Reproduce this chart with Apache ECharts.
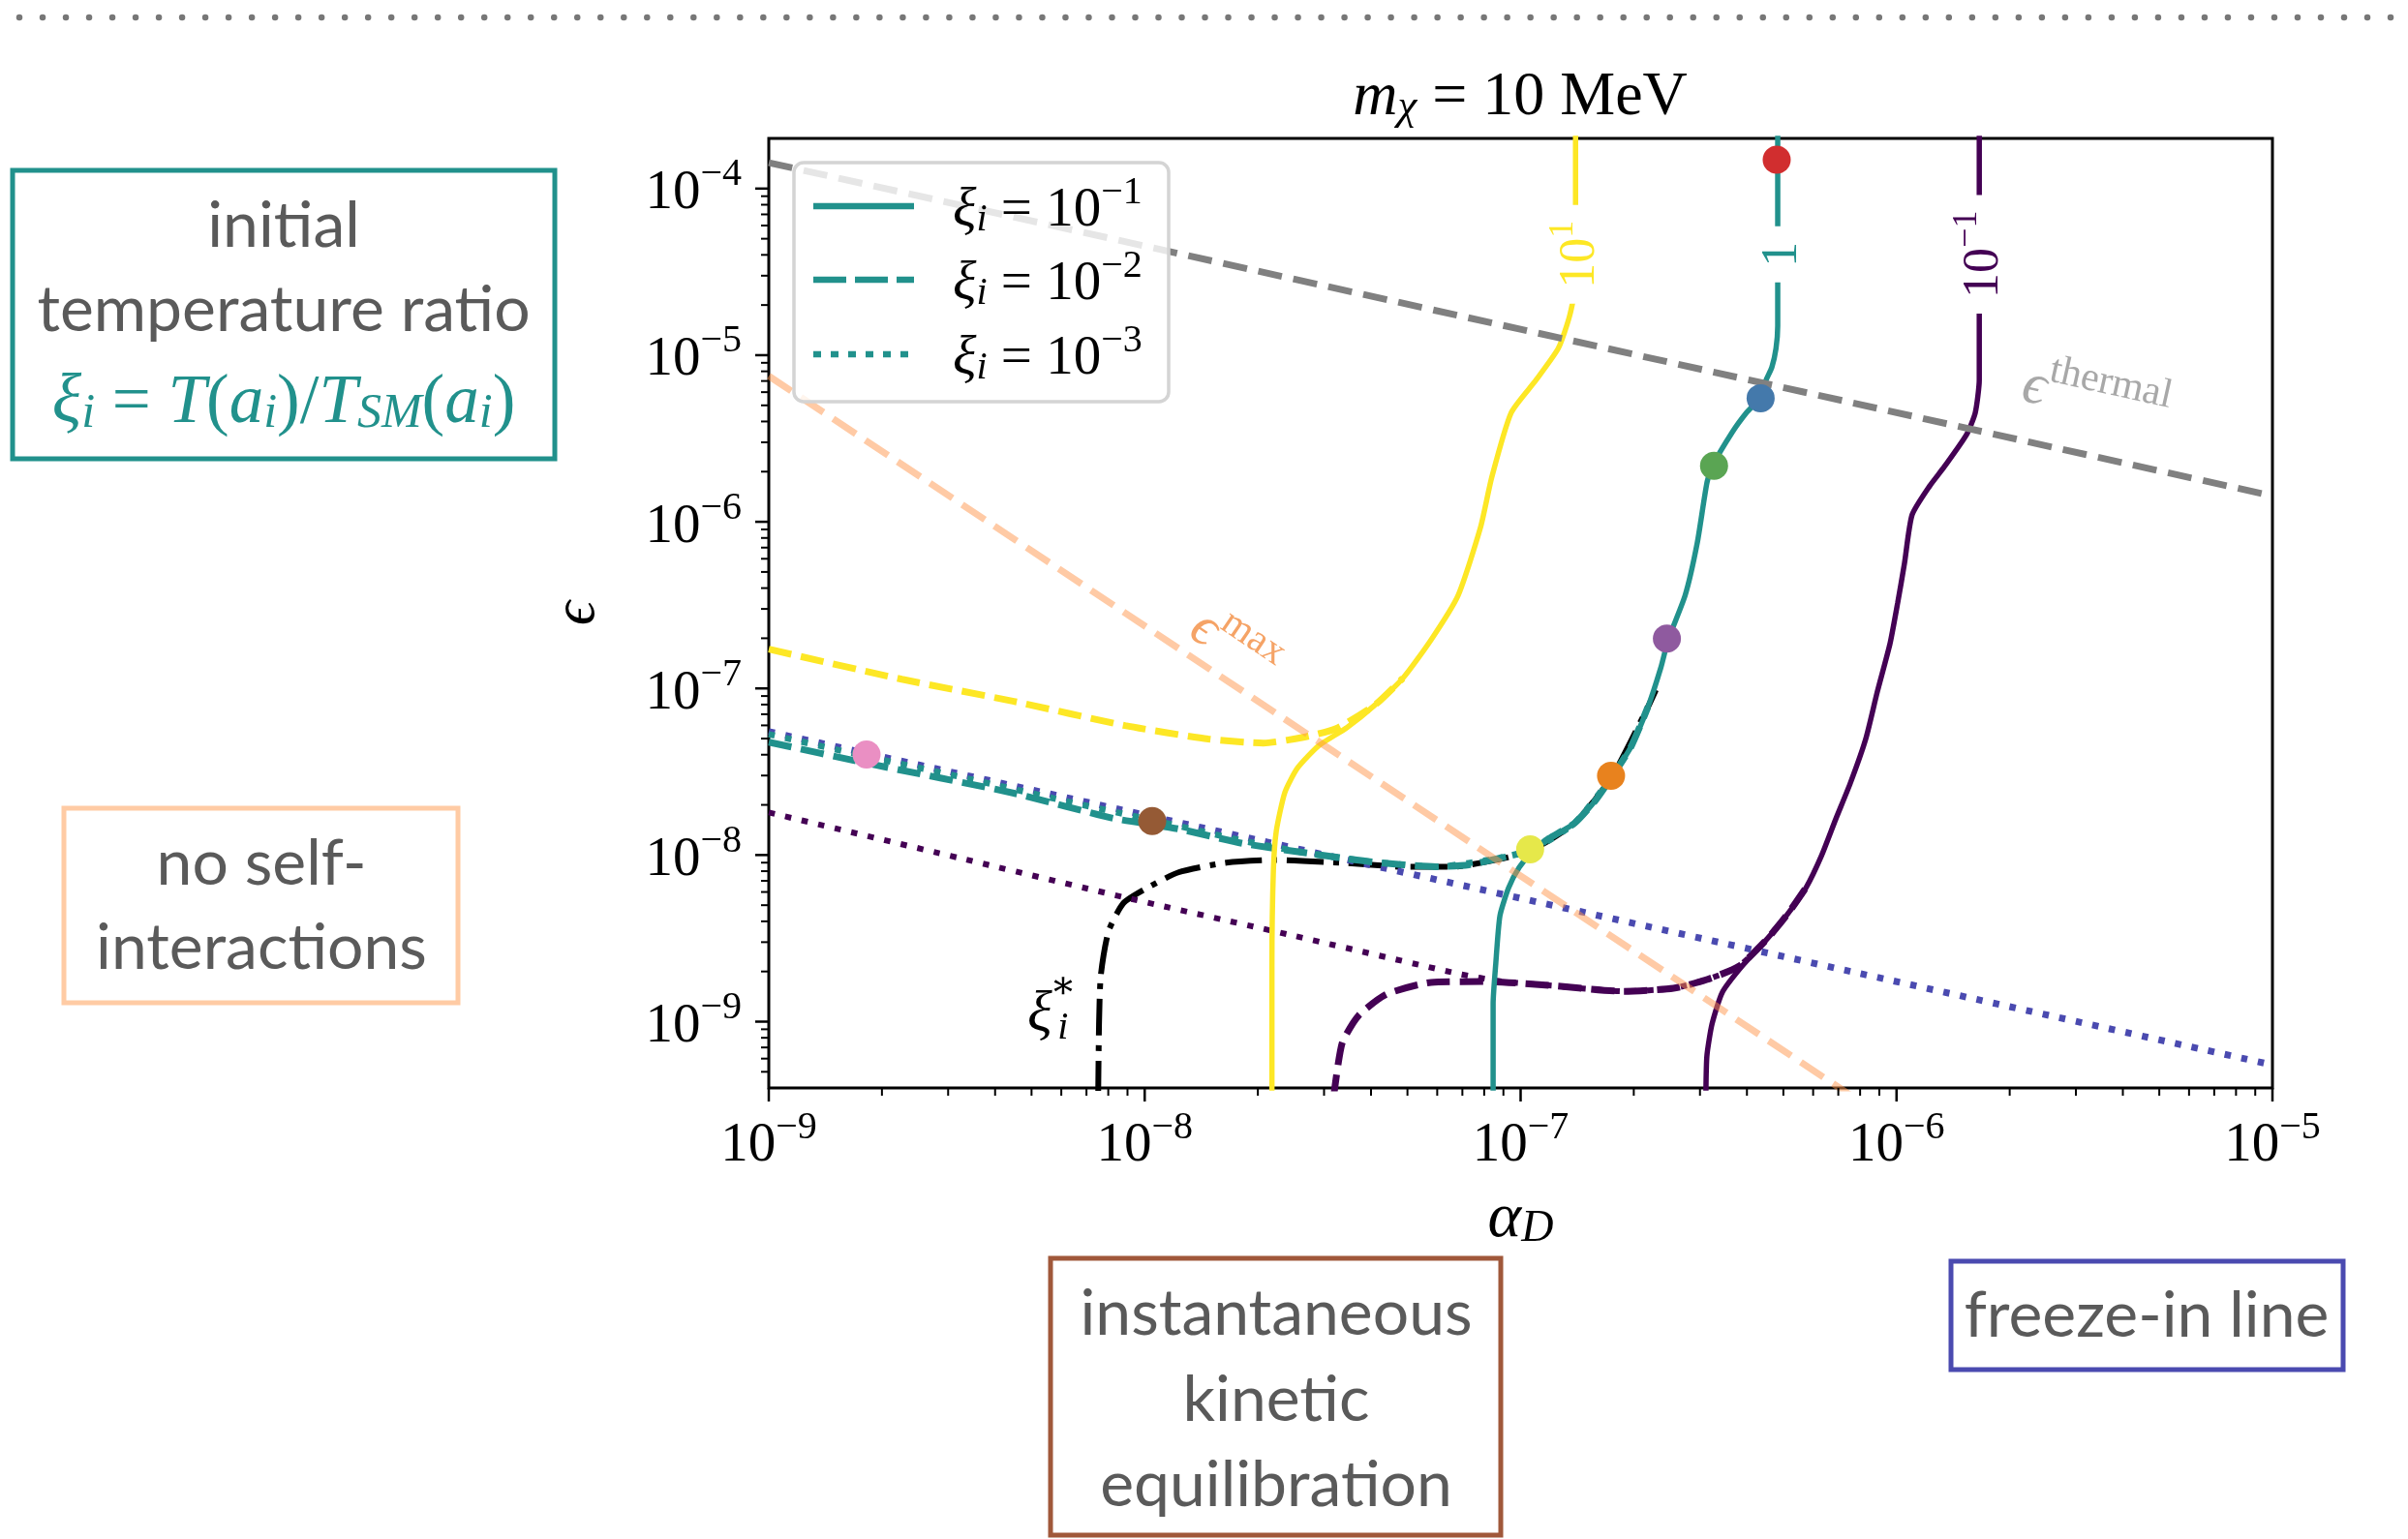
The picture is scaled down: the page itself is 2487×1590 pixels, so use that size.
<!DOCTYPE html>
<html>
<head>
<meta charset="utf-8">
<script src="https://cdn.jsdelivr.net/npm/echarts@6/dist/echarts.min.js"></script>
<style>
  html, body { margin: 0; padding: 0; background: #fff; }
  #chart { width: 2487px; height: 1590px; }
</style>
</head>
<body>
<div id="chart"></div>
<script>
// axis ranges (alpha_D on x, epsilon on y)
const X_RANGE = [1e-9, 1e-5];
const Y_RANGE = [4e-10, 2e-4];
const X_MAJOR = [1e-9, 1e-8, 1e-7, 1e-6, 1e-5];
const Y_MAJOR = [1e-9, 1e-8, 1e-7, 1e-6, 1e-5, 1e-4];
const MINOR_MULT = [2, 3, 4, 5, 6, 7, 8, 9];

// straight reference lines
const thermalLine = [[1e-9, 1.43e-4], [1e-5, 1.43e-6]];
const maxLine = [[1e-9, 7.5e-6], [1e-6, 2.37e-10]];
const freezeInLine = [[1e-9, 5.5e-8], [1e-5, 5.5e-10]];

// contour "10^1" (yellow)
const yellowSolid = [[2.18e-8, 3.5e-10], [2.18e-8, 2.15e-9], [2.20e-8, 8.18e-9], [2.24e-8, 1.40e-8], [2.36e-8, 2.38e-8],
  [2.55e-8, 3.33e-8], [2.90e-8, 4.52e-8], [3.45e-8, 5.82e-8], [4.09e-8, 7.93e-8], [4.86e-8, 1.15e-7], [5.78e-8, 1.96e-7],
  [6.82e-8, 3.62e-7], [7.82e-8, 9.23e-7], [8.39e-8, 1.87e-6], [9.44e-8, 4.52e-6], [1.10e-7, 7.11e-6], [1.26e-7, 1.10e-5],
  [1.35e-7, 1.72e-5], [1.40e-7, 2.70e-5], [1.40e-7, 2.3e-4]];
const yellowDashed = [[1e-9, 1.72e-7], [2.26e-9, 1.135e-7], [4.49e-9, 8.36e-8], [8.87e-9, 5.98e-8], [1.477e-8, 4.97e-8],
  [2.07e-8, 4.70e-8], [2.64e-8, 5.09e-8], [3.23e-8, 5.74e-8], [4.09e-8, 7.93e-8], [4.86e-8, 1.15e-7]];

// contour "1" (teal)
const tealSolid = [[8.45e-8, 3.5e-10], [8.45e-8, 1.28e-9], [8.59e-8, 2.24e-9], [8.81e-8, 4.32e-9], [9.29e-8, 6.35e-9],
  [9.91e-8, 8.41e-9], [1.076e-7, 1.054e-8], [1.19e-7, 1.256e-8], [1.39e-7, 1.55e-8], [1.585e-7, 2.14e-8],
  [1.75e-7, 2.95e-8], [1.96e-7, 4.40e-8], [2.18e-7, 7.71e-8], [2.36e-7, 1.33e-7], [2.47e-7, 1.96e-7], [2.74e-7, 3.62e-7],
  [2.95e-7, 7.45e-7], [3.13e-7, 1.71e-6], [3.24e-7, 2.17e-6], [3.66e-7, 3.46e-6], [3.99e-7, 4.52e-6], [4.32e-7, 5.52e-6],
  [4.50e-7, 7.11e-6], [4.66e-7, 8.47e-6], [4.78e-7, 1.10e-5], [4.83e-7, 1.50e-5], [4.83e-7, 2.3e-4]];
const tealDashed = [[1e-9, 4.76e-8], [1.82e-9, 3.56e-8], [4.49e-9, 2.35e-8], [8.26e-9, 1.66e-8], [1.23e-8, 1.435e-8],
  [1.82e-8, 1.175e-8], [2.70e-8, 1.028e-8], [4.02e-8, 9.10e-9], [5.96e-8, 8.51e-9], [7.28e-8, 8.74e-9], [8.86e-8, 9.62e-9],
  [1.07e-7, 1.07e-8], [1.19e-7, 1.256e-8], [1.39e-7, 1.55e-8], [1.585e-7, 2.14e-8], [1.75e-7, 2.95e-8], [1.96e-7, 4.40e-8],
  [2.18e-7, 7.71e-8]];
const tealDotted = [[1e-9, 5.31e-8], [1.875e-9, 3.85e-8], [3.40e-9, 2.87e-8], [6.14e-9, 2.11e-8], [1.11e-8, 1.575e-8],
  [1.82e-8, 1.22e-8], [2.70e-8, 1.028e-8], [4.02e-8, 9.10e-9], [5.96e-8, 8.51e-9], [8.86e-8, 9.62e-9], [1.07e-7, 1.07e-8],
  [1.39e-7, 1.55e-8], [1.75e-7, 2.95e-8]];

// contour "10^-1" (purple)
const purpleSolid = [[3.11e-7, 3.5e-10], [3.13e-7, 6.22e-10], [3.23e-7, 9.68e-10], [3.44e-7, 1.50e-9], [3.88e-7, 2.15e-9],
  [4.50e-7, 3.09e-9], [5.09e-7, 4.32e-9], [5.74e-7, 6.35e-9], [6.31e-7, 9.86e-9], [6.89e-7, 1.64e-8], [7.53e-7, 2.69e-8],
  [8.28e-7, 4.97e-8], [8.89e-7, 9.55e-8], [9.61e-7, 1.86e-7], [1.007e-6, 3.26e-7], [1.05e-6, 5.64e-7], [1.10e-6, 1.10e-6],
  [1.225e-6, 1.64e-6], [1.34e-6, 2.14e-6], [1.535e-6, 3.33e-6], [1.62e-6, 4.52e-6], [1.66e-6, 7.11e-6], [1.66e-6, 2.3e-4]];
const purpleDashed = [[3.18e-8, 3.5e-10], [3.35e-8, 7.41e-10], [3.71e-8, 1.09e-9], [4.40e-8, 1.46e-9], [5.78e-8, 1.72e-9],
  [8.11e-8, 1.74e-9], [1.19e-7, 1.65e-9], [1.88e-7, 1.52e-9], [2.55e-7, 1.585e-9], [3.13e-7, 1.79e-9], [3.81e-7, 2.15e-9],
  [4.50e-7, 3.09e-9], [5.09e-7, 4.32e-9], [5.74e-7, 6.35e-9]];
const purpleDotted = [[1e-9, 1.8e-8], [3.20e-9, 9.62e-9], [8.87e-9, 5.56e-9], [2.46e-8, 3.30e-9], [6.82e-8, 1.94e-9],
  [8.95e-8, 1.74e-9], [1.19e-7, 1.65e-9], [1.88e-7, 1.52e-9], [2.55e-7, 1.585e-9], [3.13e-7, 1.79e-9], [3.81e-7, 2.15e-9],
  [4.50e-7, 3.09e-9]];

// xi_i^* boundary (black dash-dot)
const xiStarLine = [[7.52e-9, 3.5e-10], [7.56e-9, 9.68e-10], [7.64e-9, 1.88e-9], [8.01e-9, 3.48e-9], [8.77e-9, 5.13e-9],
  [1.005e-8, 6.27e-9], [1.23e-8, 7.87e-9], [1.65e-8, 9.0e-9], [2.22e-8, 9.35e-9], [3.29e-8, 9.0e-9], [4.90e-8, 8.51e-9],
  [6.58e-8, 8.51e-9], [8.86e-8, 9.48e-9], [1.07e-7, 1.07e-8], [1.39e-7, 1.55e-8], [1.75e-7, 2.95e-8], [2.18e-7, 7.71e-8],
  [2.29e-7, 9.8e-8]];

// benchmark points
const dotPoints = [[4.80e-7, 1.49e-4], [4.35e-7, 5.52e-6], [3.27e-7, 2.17e-6], [2.45e-7, 1.99e-7], [1.74e-7, 2.99e-8],
  [1.06e-7, 1.08e-8], [1.047e-8, 1.60e-8], [1.82e-9, 4.01e-8]];
const dotColors = ['#d12e2f', '#4479ab', '#5aa553', '#8f5a9f', '#e8821e', '#e6e84a', '#955a35', '#ea8fc3'];

// in-plot annotations (anchors in data coords)
const contourLabelPts = [[1.40e-7, 4.03e-5], [4.83e-7, 4.03e-5], [1.66e-6, 4.03e-5]];
const contourLabelText = ['{n|10}{sup|1}', '{n|1}', '{n|10}{sup|−1}'];
const thermalLabelPt = [3.40e-6, 5.74e-6];
const maxLabelPt = [1.75e-8, 1.86e-7];
const xiStarLabelPt = [5.26e-9, 1.18e-9];

const TEAL = '#21918c', YELLOW = '#fde725', PURPLE = '#440154';
const SERIF = "'Liberation Serif', 'DejaVu Serif', serif";
const SANS = "Lato, 'Open Sans', sans-serif";
const BOX_FONT = '66px ' + SANS;

function mathRich(size, color, key) {
  const small = Math.round(size * 0.7);
  const mk = (o) => { o[key] = color; o.fontFamily = SERIF; return o; };
  return {
    n: mk({fontSize: size, lineHeight: Math.round(size * 1.2), verticalAlign: 'bottom'}),
    v: mk({fontSize: size, fontStyle: 'italic', lineHeight: Math.round(size * 1.2), verticalAlign: 'bottom'}),
    sup: mk({fontSize: small, lineHeight: Math.round(size * 0.63), verticalAlign: 'top'}),
    sub: mk({fontSize: small, fontStyle: 'italic', lineHeight: small, verticalAlign: 'bottom'})
  };
}

function powLabel(v) {
  const e = Math.round(Math.log10(v));
  if (Math.abs(v / Math.pow(10, e) - 1) > 1e-6) return '';
  return '{n|10}{sup|' + (e < 0 ? '−' : '') + Math.abs(e) + '}';
}

function minorTicks(lo, hi, range) {
  const out = [];
  for (let e = lo; e <= hi; e++) {
    MINOR_MULT.forEach(m => {
      const v = m * Math.pow(10, e);
      if (v > range[0] && v < range[1]) out.push(v);
    });
  }
  return out;
}

function tickSeries(axis, vals, len, width) {
  return {
    type: 'custom', silent: true, clip: false, z: 30,
    data: vals.map(v => axis === 'x' ? [v, Y_RANGE[0]] : [X_RANGE[0], v]),
    renderItem: (params, api) => {
      const p = api.coord([api.value(0), api.value(1)]);
      const shape = axis === 'x'
        ? {x1: p[0], y1: p[1], x2: p[0], y2: p[1] + len}
        : {x1: p[0], y1: p[1], x2: p[0] - len, y2: p[1]};
      return {type: 'line', shape: shape, style: {stroke: '#000', lineWidth: width}};
    }
  };
}

function curve(data, color, width, type, z) {
  return {
    type: 'line', data: data, showSymbol: false, symbol: 'none', smooth: 0.2, silent: true,
    z: z || 2, lineStyle: {color: color, width: width, type: type || 'solid', cap: 'butt'}
  };
}

const DASH = [24, 10], DOT = [6.5, 11];

const annotations = [];
contourLabelPts.forEach((p, i) => {
  annotations.push({value: p, label: {show: true, position: 'inside', rotate: 90, formatter: contourLabelText[i],
    backgroundColor: '#fff', padding: [0, 16], opacity: 1, rich: mathRich(52, [YELLOW, TEAL, PURPLE][i], 'color')}});
});
annotations.push({value: thermalLabelPt, label: {show: true, position: 'inside', rotate: -12.5,
  formatter: '{v|ϵ}{sup|thermal}', rich: mathRich(60, '#a8a8a8', 'color')}});
annotations.push({value: maxLabelPt, label: {show: true, position: 'inside', rotate: -34,
  formatter: '{v|ϵ}{sup|max}', rich: mathRich(58, '#f5a366', 'color')}});
annotations.push({value: xiStarLabelPt, label: {show: true, position: 'inside', formatter: '{v|ξ}', rich: mathRich(60, '#000', 'color')}});
annotations.push({value: xiStarLabelPt, label: {show: true, position: 'inside', offset: [24, -2], lineHeight: 40,
  formatter: '{s|∗}\n{s|i}', rich: {s: {fontFamily: SERIF, fontStyle: 'italic', fontSize: 40, color: '#000', lineHeight: 42}}}});

const option = {
  animation: false,
  backgroundColor: '#fff',
  grid: {left: 794, top: 143, width: 1553, height: 981, show: true, borderColor: '#000', borderWidth: 3,
    backgroundColor: 'transparent', containLabel: false},
  xAxis: {
    type: 'log', logBase: 10, min: X_RANGE[0], max: X_RANGE[1],
    axisLine: {show: false}, axisTick: {show: false}, splitLine: {show: false}, minorTick: {show: false},
    axisLabel: {formatter: powLabel, margin: 21, rich: mathRich(57, '#000', 'color')},
    name: '{v|α}{sub|D}', nameLocation: 'middle', nameGap: 90,
    nameTextStyle: {rich: mathRich(66, '#000', 'color')}
  },
  yAxis: {
    type: 'log', logBase: 10, min: Y_RANGE[0], max: Y_RANGE[1],
    axisLine: {show: false}, axisTick: {show: false}, splitLine: {show: false}, minorTick: {show: false},
    axisLabel: {formatter: powLabel, margin: 28, rich: mathRich(57, '#000', 'color')},
    name: '{v|ϵ}', nameLocation: 'middle', nameRotate: 90, nameGap: 166,
    nameTextStyle: {rich: mathRich(62, '#000', 'color')}
  },
  series: [
    curve(xiStarLine, '#000', 6, [38, 10, 6, 10], 2),
    curve(purpleDotted, PURPLE, 6, DOT, 3),
    curve(purpleDashed, PURPLE, 7, DASH, 3),
    curve(purpleSolid, PURPLE, 5.5, 'solid', 3),
    curve(freezeInLine, '#4a4ab0', 7, DOT, 4),
    curve(tealDotted, TEAL, 6.5, DOT, 5),
    curve(tealDashed, TEAL, 7, DASH, 5),
    curve(tealSolid, TEAL, 5.5, 'solid', 5),
    curve(yellowDashed, YELLOW, 7, DASH, 5),
    curve(yellowSolid, YELLOW, 5.5, 'solid', 5),
    curve(thermalLine, '#808080', 7, [25, 12], 6),
    curve(maxLine, 'rgba(255,150,75,0.5)', 7, [28, 12], 6),
    {
      type: 'scatter', silent: true, z: 15, symbolSize: 29,
      data: dotPoints.map((p, i) => ({value: p, itemStyle: {color: dotColors[i], opacity: 1}}))
    },
    {
      type: 'scatter', silent: true, z: 20, symbolSize: 1, itemStyle: {color: 'rgba(0,0,0,0)', opacity: 1},
      data: annotations
    },
    tickSeries('x', X_MAJOR, 14, 2.5),
    tickSeries('x', minorTicks(-9, -6, X_RANGE), 8, 2),
    tickSeries('y', Y_MAJOR, 14, 2.5),
    tickSeries('y', minorTicks(-10, -4, Y_RANGE), 8, 2)
  ],
  graphic: [
    // dotted rule at the top of the slide
    {type: 'line', z: 100, shape: {x1: 20, y1: 18, x2: 2487, y2: 18},
      style: {stroke: '#777', lineWidth: 6.5, lineDash: [0.01, 24], lineCap: 'round'}},
    // title
    {type: 'text', z: 100, x: 1570, y: 95,
      style: {text: '{v|m}{sub|χ}{n| = 10 MeV}', rich: mathRich(64, '#000', 'fill'), align: 'center', verticalAlign: 'middle'}},
    // legend
    {type: 'rect', z: 100, shape: {x: 820, y: 168, width: 387, height: 247, r: 10},
      style: {fill: 'rgba(255,255,255,0.8)', stroke: '#d4d4d4', lineWidth: 3.5}},
    {type: 'line', z: 101, shape: {x1: 840, y1: 213, x2: 944, y2: 213}, style: {stroke: TEAL, lineWidth: 6.5}},
    {type: 'line', z: 101, shape: {x1: 840, y1: 289, x2: 944, y2: 289}, style: {stroke: TEAL, lineWidth: 6.5, lineDash: [34, 9]}},
    {type: 'line', z: 101, shape: {x1: 840, y1: 366, x2: 944, y2: 366}, style: {stroke: TEAL, lineWidth: 6.5, lineDash: [8, 10]}},
    {type: 'text', z: 101, x: 984, y: 213,
      style: {text: '{v|ξ}{sub|i}{n| = 10}{sup|−1}', rich: mathRich(57, '#000', 'fill'), align: 'left', verticalAlign: 'middle'}},
    {type: 'text', z: 101, x: 984, y: 289,
      style: {text: '{v|ξ}{sub|i}{n| = 10}{sup|−2}', rich: mathRich(57, '#000', 'fill'), align: 'left', verticalAlign: 'middle'}},
    {type: 'text', z: 101, x: 984, y: 366,
      style: {text: '{v|ξ}{sub|i}{n| = 10}{sup|−3}', rich: mathRich(57, '#000', 'fill'), align: 'left', verticalAlign: 'middle'}},
    // explanation boxes
    {type: 'rect', z: 100, shape: {x: 13, y: 176, width: 560, height: 298}, style: {fill: 'none', stroke: TEAL, lineWidth: 5}},
    {type: 'text', z: 100, x: 293, y: 234, style: {text: 'initial', font: BOX_FONT, fill: '#5a5a5a', align: 'center', verticalAlign: 'middle'}},
    {type: 'text', z: 100, x: 293, y: 321, style: {text: 'temperature ratio', font: BOX_FONT, fill: '#5a5a5a', align: 'center', verticalAlign: 'middle'}},
    {type: 'text', z: 100, x: 293, y: 410,
      style: {text: '{v|ξ}{sub|i}{n| = }{v|T}{n|(}{v|a}{sub|i}{n|)/}{v|T}{sub|SM}{n|(}{v|a}{sub|i}{n|)}',
        rich: mathRich(71, TEAL, 'fill'), align: 'center', verticalAlign: 'middle'}},

    {type: 'rect', z: 100, shape: {x: 66, y: 835, width: 407, height: 201}, style: {fill: 'none', stroke: '#ffcba4', lineWidth: 5}},
    {type: 'text', z: 100, x: 270, y: 893, style: {text: 'no self-', font: BOX_FONT, fill: '#5a5a5a', align: 'center', verticalAlign: 'middle'}},
    {type: 'text', z: 100, x: 270, y: 980, style: {text: 'interactions', font: BOX_FONT, fill: '#5a5a5a', align: 'center', verticalAlign: 'middle'}},

    {type: 'rect', z: 100, shape: {x: 1085, y: 1300, width: 465, height: 286}, style: {fill: 'none', stroke: '#a0583a', lineWidth: 5}},
    {type: 'text', z: 100, x: 1318, y: 1358, style: {text: 'instantaneous', font: BOX_FONT, fill: '#5a5a5a', align: 'center', verticalAlign: 'middle'}},
    {type: 'text', z: 100, x: 1318, y: 1447, style: {text: 'kinetic', font: BOX_FONT, fill: '#5a5a5a', align: 'center', verticalAlign: 'middle'}},
    {type: 'text', z: 100, x: 1318, y: 1535, style: {text: 'equilibration', font: BOX_FONT, fill: '#5a5a5a', align: 'center', verticalAlign: 'middle'}},

    {type: 'rect', z: 100, shape: {x: 2015, y: 1303, width: 405, height: 112}, style: {fill: 'none', stroke: '#4a4ab0', lineWidth: 5}},
    {type: 'text', z: 100, x: 2217, y: 1360, style: {text: 'freeze-in line', font: BOX_FONT, fill: '#5a5a5a', align: 'center', verticalAlign: 'middle'}}
  ]
};

const chart = echarts.init(document.getElementById('chart'));
chart.setOption(option);
</script>
</body>
</html>
